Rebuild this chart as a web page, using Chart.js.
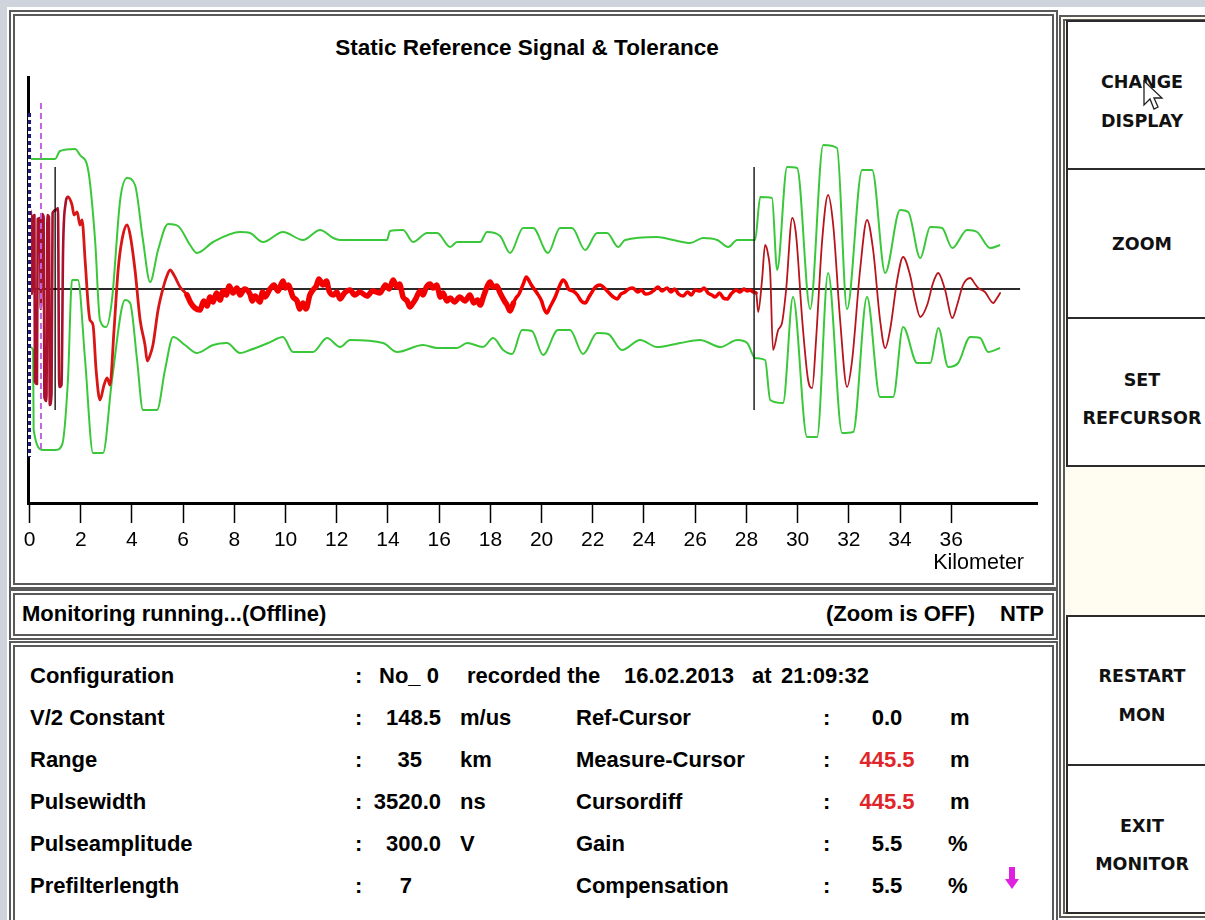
<!DOCTYPE html>
<html>
<head>
<meta charset="utf-8">
<script src="https://cdn.jsdelivr.net/npm/chart.js@4.4.1/dist/chart.umd.min.js"></script>
<style>
  html, body { margin:0; padding:0; }
  body { width:1205px; height:920px; overflow:hidden; position:relative; background:#cfd3dc;
         font-family:'Liberation Sans', Arial, sans-serif; }
  #app { position:absolute; left:7px; top:7px; width:1198px; height:913px; background:#fff; }
  .panel { position:absolute; box-sizing:border-box; border:6px double #5a5a5a; background:#fff; }
  .t { position:absolute; line-height:26px; white-space:nowrap; font-weight:bold; font-size:22px; color:#000; }
  .n { font-weight:normal; }
  .red { color:#e0262b; }
  .btn { position:absolute; left:1066px; width:150px; box-sizing:border-box; border:2px solid #2b2b2b; background:#fff; }
  .bt { position:absolute; left:1067px; width:150px; text-align:center; line-height:26px;
        font-family:'DejaVu Sans', Verdana, sans-serif; font-weight:bold; font-size:17.5px; color:#111; }
  #chartCanvas { position:absolute; left:0; top:0; z-index:2; }
</style>
</head>
<body>
<div id="app"></div>

<!-- chart panel -->
<div class="panel" style="left:9px;top:10px;width:1049px;height:579px;"></div>
<!-- status panel -->
<div class="panel" style="left:9px;top:589px;width:1049px;height:51px;"></div>
<!-- info panel -->
<div class="panel" style="left:9px;top:641px;width:1049px;height:290px;"></div>
<!-- button column -->
<div class="panel" style="left:1059px;top:15px;width:170px;height:903px;background:#fffdf2;"></div>
<div class="btn" style="top:20px;height:150px;"></div>
<div class="btn" style="top:168px;height:151px;"></div>
<div class="btn" style="top:317px;height:150px;"></div>
<div class="btn" style="top:615px;height:151px;"></div>
<div class="btn" style="top:764px;height:150px;"></div>

<div class="bt" style="top:69px;">CHANGE</div>
<div class="bt" style="top:108px;">DISPLAY</div>
<div class="bt" style="top:231px;">ZOOM</div>
<div class="bt" style="top:367px;">SET</div>
<div class="bt" style="top:405px;">REFCURSOR</div>
<div class="bt" style="top:663px;">RESTART</div>
<div class="bt" style="top:702px;">MON</div>
<div class="bt" style="top:813px;">EXIT</div>
<div class="bt" style="top:851px;">MONITOR</div>

<!-- mouse pointer -->
<svg style="position:absolute;left:1143px;top:80px;z-index:5" width="24" height="34" viewBox="0 0 24 34">
  <path d="M1 1 L1 25 L7 19 L11 29 L15 27 L11 18 L19 18 Z" fill="#fff" stroke="#222" stroke-width="1.3"/>
</svg>

<!-- chart title and axis name -->
<div class="t" style="left:0;width:1054px;text-align:center;top:35px;font-size:22.5px;">Static Reference Signal &amp; Tolerance</div>
<div class="t n" style="left:0;width:1024px;text-align:right;top:549px;font-size:21.5px;z-index:3;">Kilometer</div>

<!-- status bar -->
<div class="t" style="left:22px;top:601px;">Monitoring running...(Offline)</div>
<div class="t" style="left:826px;top:601px;">(Zoom is OFF)</div>
<div class="t" style="left:1000px;top:601px;">NTP</div>

<!-- info panel -->
<div class="t" style="left:30px;top:663px;">Configuration</div>
<div class="t" style="left:355px;top:663px;">:</div>
<div class="t" style="left:379px;top:663px;">No_ 0</div>
<div class="t" style="left:467px;top:663px;">recorded the</div>
<div class="t" style="left:624px;top:663px;">16.02.2013</div>
<div class="t" style="left:752px;top:663px;">at</div>
<div class="t" style="left:781px;top:663px;">21:09:32</div>

<div class="t" style="left:30px;top:705px;">V/2 Constant</div>
<div class="t" style="left:355px;top:705px;">:</div>
<div class="t" style="left:341px;width:100px;text-align:right;top:705px;">148.5</div>
<div class="t" style="left:460px;top:705px;">m/us</div>
<div class="t" style="left:576px;top:705px;">Ref-Cursor</div>
<div class="t" style="left:823px;top:705px;">:</div>
<div class="t" style="left:837px;width:100px;text-align:center;top:705px;">0.0</div>
<div class="t" style="left:950px;top:705px;">m</div>

<div class="t" style="left:30px;top:747px;">Range</div>
<div class="t" style="left:355px;top:747px;">:</div>
<div class="t" style="left:322px;width:100px;text-align:right;top:747px;">35</div>
<div class="t" style="left:460px;top:747px;">km</div>
<div class="t" style="left:576px;top:747px;">Measure-Cursor</div>
<div class="t" style="left:823px;top:747px;">:</div>
<div class="t red" style="left:837px;width:100px;text-align:center;top:747px;">445.5</div>
<div class="t" style="left:950px;top:747px;">m</div>

<div class="t" style="left:30px;top:789px;">Pulsewidth</div>
<div class="t" style="left:355px;top:789px;">:</div>
<div class="t" style="left:341px;width:100px;text-align:right;top:789px;">3520.0</div>
<div class="t" style="left:460px;top:789px;">ns</div>
<div class="t" style="left:576px;top:789px;">Cursordiff</div>
<div class="t" style="left:823px;top:789px;">:</div>
<div class="t red" style="left:837px;width:100px;text-align:center;top:789px;">445.5</div>
<div class="t" style="left:950px;top:789px;">m</div>

<div class="t" style="left:30px;top:831px;">Pulseamplitude</div>
<div class="t" style="left:355px;top:831px;">:</div>
<div class="t" style="left:341px;width:100px;text-align:right;top:831px;">300.0</div>
<div class="t" style="left:460px;top:831px;">V</div>
<div class="t" style="left:576px;top:831px;">Gain</div>
<div class="t" style="left:823px;top:831px;">:</div>
<div class="t" style="left:837px;width:100px;text-align:center;top:831px;">5.5</div>
<div class="t" style="left:948px;top:831px;">%</div>

<div class="t" style="left:30px;top:873px;">Prefilterlength</div>
<div class="t" style="left:355px;top:873px;">:</div>
<div class="t" style="left:312px;width:100px;text-align:right;top:873px;">7</div>
<div class="t" style="left:576px;top:873px;">Compensation</div>
<div class="t" style="left:823px;top:873px;">:</div>
<div class="t" style="left:837px;width:100px;text-align:center;top:873px;">5.5</div>
<div class="t" style="left:948px;top:873px;">%</div>
<svg style="position:absolute;left:1004px;top:866px;" width="16" height="24" viewBox="0 0 16 24">
  <path d="M5 1 L11 1 L11 13 L15 13 L8 23 L1 13 L5 13 Z" fill="#e020e0"/>
</svg>

<canvas id="chartCanvas" width="1050" height="590"></canvas>

<script>
// ---- data (x in km, y in relative amplitude units) ----
const xTickLabels = [0, 2, 4, 6, 8, 10, 12, 14, 16, 18, 20, 22, 24, 26, 28, 30, 32, 34, 36];

const upperKm = [0, 1.0, 1.19, 1.78, 1.97, 2.29, 2.56, 2.75, 2.99, 3.22, 3.54, 3.81, 4.12, 4.43, 4.71, 5.02, 5.41, 5.80,
  6.27, 6.54, 7.17, 8.22, 8.61, 9.12, 9.90, 10.68, 11.35, 11.86, 12.13, 13.96, 14.08, 14.59, 14.98, 15.53, 15.92, 16.43,
  16.70, 17.60, 17.87, 18.38, 18.77, 19.28, 19.67, 20.25, 20.72, 21.19, 21.70, 22.17, 22.56, 22.99, 23.26, 24.51, 25.14,
  25.80, 26.31, 26.86, 27.29, 27.64, 28.34, 28.54, 29.00, 29.20, 29.59, 29.98, 30.49, 31.00, 31.54, 31.93, 32.52, 32.91,
  33.42, 34.00, 34.32, 34.79, 35.18, 35.64, 36.04, 36.62, 37.01, 37.52, 37.91];
const upperVal = [130, 130, 138, 140, 134, 119, 49, -31, -38, -11, 89, 111, 104, 49, 7, 39, 65, 63,
  44, 36, 47, 57, 56, 47, 57, 49, 59, 51, 49, 49, 58, 59, 47, 56, 56, 42,
  47, 47, 57, 53, 36, 61, 61, 36, 61, 61, 39, 56, 56, 42, 49, 52, 49,
  46, 51, 49, 42, 49, 49, 92, 91, 19, 122, 121, -20, 144, 141, -20, 119, 119,
  16, 79, 77, 31, 62, 61, 41, 59, 57, 41, 44];

const lowerKm = [0, 0.14, 0.16, 0.53, 1.0, 1.27, 1.50, 1.66, 1.89, 2.17, 2.48, 2.87, 3.22, 3.73, 3.93, 4.20, 4.43, 4.98,
  5.29, 5.61, 6.07, 6.54, 7.17, 7.71, 8.22, 8.61, 9.32, 9.90, 10.29, 11.07, 11.62, 12.13, 12.52, 13.81, 14.36, 15.37,
  15.92, 16.70, 17.09, 17.71, 18.11, 18.50, 18.85, 19.24, 19.62, 20.06, 20.64, 21.11, 21.62, 22.17, 22.60, 23.14, 23.85,
  24.51, 25.41, 26.19, 26.99, 27.64, 28.03, 28.34, 28.73, 28.93, 29.43, 29.82, 30.37, 30.76, 31.19, 31.74, 32.17, 32.71,
  33.22, 33.73, 34.12, 34.67, 35.18, 35.50, 35.88, 36.27, 36.74, 37.13, 37.44, 37.91];
const lowerVal = [-58, -61, -141, -161, -161, -156, -91, 9, 9, -71, -164, -164, -91, -11, -14, -71, -121, -121,
  -81, -48, -56, -64, -56, -54, -64, -61, -54, -48, -63, -63, -49, -58, -51, -54, -63, -56,
  -59, -59, -54, -58, -49, -61, -65, -41, -42, -66, -41, -41, -65, -44, -45, -61, -51,
  -58, -54, -51, -58, -51, -54, -69, -71, -111, -114, -8, -148, -148, 16, -144, -143, -8,
  -108, -108, -38, -74, -74, -39, -78, -74, -48, -49, -63, -59];

const signalKm = [0.00, 0.05, 0.09, 0.13, 0.19, 0.21, 0.29, 0.32, 0.40, 0.44, 0.49, 0.55, 0.58, 0.66, 0.70, 0.76, 0.79, 0.86,
  0.90, 1.04, 1.11, 1.16, 1.25, 1.31, 1.40, 1.50, 1.66, 1.74, 1.86, 1.97, 2.05, 2.17, 2.29, 2.36, 2.48, 2.60, 2.75, 2.91,
  3.03, 3.14, 3.30, 3.46, 3.61, 3.81, 3.93, 4.12, 4.32, 4.51, 4.60, 4.71, 4.82, 5.02, 5.25, 5.35, 5.49, 5.64, 5.88, 6.15,
  6.30, 6.46, 6.66, 6.80, 6.93, 7.05, 7.17, 7.30, 7.44, 7.56, 7.68, 7.80, 7.95, 8.10, 8.22, 8.40, 8.61, 8.70, 8.81, 9.00,
  9.10, 9.20, 9.39, 9.55, 9.70, 9.90, 10.00, 10.10, 10.29, 10.45, 10.55, 10.68, 10.80, 10.95, 11.07, 11.20, 11.30, 11.46,
  11.60, 11.70, 11.86, 12.00, 12.13, 12.30, 12.52, 12.70, 12.90, 13.18, 13.40, 13.69, 13.90, 14.05, 14.20, 14.35, 14.45,
  14.59, 14.75, 14.85, 14.98, 15.10, 15.25, 15.37, 15.50, 15.65, 15.76, 15.90, 16.05, 16.15, 16.30, 16.43, 16.60, 16.80,
  17.01, 17.20, 17.35, 17.50, 17.60, 17.75, 17.90, 17.99, 18.10, 18.25, 18.38, 18.55, 18.65, 18.77, 18.90, 19.00, 19.12,
  19.30, 19.40, 19.47, 19.60, 19.82, 20.00, 20.10, 20.21, 20.33, 20.53, 20.70, 20.84, 20.95, 21.05, 21.23, 21.40, 21.55,
  21.70, 21.85, 21.97, 22.10, 22.29, 22.45, 22.60, 22.80, 22.95, 23.10, 23.26, 23.40, 23.57, 23.75, 23.90, 24.05, 24.24,
  24.40, 24.55, 24.70, 24.90, 25.05, 25.20, 25.35, 25.53, 25.70, 25.85, 26.00, 26.19, 26.35, 26.50, 26.65, 26.78, 26.95,
  27.10, 27.25, 27.40, 27.60, 27.75, 27.90, 28.03, 28.15, 28.26, 28.38, 28.46, 28.61, 28.73, 28.85, 28.93, 29.04, 29.24,
  29.39, 29.55, 29.79, 29.94, 30.18, 30.41, 30.57, 30.72, 30.96, 31.19, 31.39, 31.66, 31.93, 32.13, 32.44, 32.71, 32.95,
  33.22, 33.42, 33.61, 33.89, 34.12, 34.39, 34.59, 34.79, 35.06, 35.29, 35.49, 35.76, 36.04, 36.23, 36.46, 36.74, 36.93,
  37.05, 37.32, 37.64, 37.79, 37.91];
const signalVal = [79, 77, -5, 72, 74, -92, -95, 70, 71, -20, 75, 72, -108, -112, 74, 72, -116, -104,
  76, 79, 81, -98, -96, 39, 84, 92, 84, 74, 77, 64, 69, 29, -16, -31, -36, -81, -111, -96,
  -89, -96, -41, 19, 49, 64, 54, 19, -31, -56, -72, -66, -56, -21, 4, 12, 19, 14, 2, -6,
  -14, -19, -21, -12, -17, -8, -13, -4, -11, -2, -6, 3, -4, 1, -6, 0, -5, -12, -7, -13,
  -3, -8, 0, 4, -2, 8, 1, 4, -8, -12, -20, -14, -20, -6, -1, 3, 10, 4,
  8, -2, -6, -3, -10, -4, -1, -6, -3, -7, -2, -4, 4, 0, 9, 2, 5,
  -8, -12, -18, -14, -9, -2, -6, 2, 5, 1, 4, -8, -4, -12, -9, -13, -8,
  -12, -6, -14, -11, -16, -6, 4, 7, 2, 3, -4, -12, -16, -22, -14, -9, -5,
  6, 12, 10, 4, -4, -12, -20, -24, -18, -8, 3, 9, 6, 0, -2, -6, -12,
  -14, -8, -3, 2, 4, 1, -3, -8, -10, -5, -3, 0, 1, -3, -1, -5, -4,
  -1, 2, -2, 1, -3, 0, -5, -7, -3, -6, -1, -2, 1, -4, -6, -8, -4,
  -9, -10, -5, -1, -3, 0, -2, -1, -3, -4, -23, 9, 44, 34, 16, -61, -41,
  -34, -1, 71, 54, -31, -91, -99, -51, 49, 94, 64, -31, -98, -71, 19, 69, 39,
  -31, -59, -41, 9, 32, 14, -11, -28, -16, 6, 16, -1, -29, -16, 4, 11, 5,
  1, -3, -14, -9, -4];

const zeroLineKm = [0, 38.69];
const zeroLineVal = [0, 0];
const refCursorKm = 0.0;       const refCursorSpan = [176, -168];
const measureCursorKm = 0.4455; const measureCursorSpan = [186, -161];
const markerKm = 1.0;           const markerSpan = [122, -121];
const cursorKm = 28.3;          const cursorSpan = [122, -121];

// ---- build chart ----
const pts = (xs, ys) => xs.map((x, i) => ({ x: x, y: ys[i] }));
const vline = (km, span) => span.map(v => ({ x: km, y: v }));
const GREEN = '#3ac83a';

const redColor = c => {
  const x = c.p0.parsed.x;
  if (x < 1.45) return '#a8102c';
  if (x < 6) return '#d81616';
  if (x < 28.3) return '#f20000';
  return '#b8141c';
};
const redWidth = c => {
  const x = c.p0.parsed.x;
  if (x < 1.45) return 2.6;
  if (x < 6) return 2.8;
  if (x < 18.8) return 5.5;
  if (x < 28.3) return 3.5;
  return 1.8;
};

new Chart(document.getElementById('chartCanvas'), {
  type: 'line',
  data: {
    datasets: [
      { data: vline(refCursorKm, refCursorSpan), borderColor: '#1c1c78', borderWidth: 3, borderDash: [4, 3], order: 0 },
      { data: vline(refCursorKm, refCursorSpan), borderColor: '#ffffff', borderWidth: 3, order: 0.5 },
      { data: vline(measureCursorKm, measureCursorSpan), borderColor: '#c064e0', borderWidth: 2, borderDash: [6, 4], order: 0 },
      { data: vline(markerKm, markerSpan), borderColor: '#000', borderWidth: 1.3, order: 0 },
      { data: vline(cursorKm, cursorSpan), borderColor: '#222', borderWidth: 1.5, order: 0 },
      { data: pts(signalKm, signalVal), borderColor: '#f20000', borderWidth: 3, borderJoinStyle: 'round',
        borderCapStyle: 'round', cubicInterpolationMode: 'monotone',
        segment: { borderColor: redColor, borderWidth: redWidth }, order: 1 },
      { data: pts(upperKm, upperVal), borderColor: GREEN, borderWidth: 2, cubicInterpolationMode: 'monotone', order: 2 },
      { data: pts(lowerKm, lowerVal), borderColor: GREEN, borderWidth: 2, cubicInterpolationMode: 'monotone', order: 2 },
      { data: pts(zeroLineKm, zeroLineVal), borderColor: '#2a2a2a', borderWidth: 1.8, order: 3 }
    ]
  },
  options: {
    responsive: false,
    animation: false,
    events: [],
    layout: { padding: { left: 28, right: 13, top: 77, bottom: 38 } },
    elements: { point: { radius: 0 }, line: { tension: 0, fill: false } },
    plugins: { legend: { display: false }, tooltip: { enabled: false }, title: { display: false } },
    scales: {
      x: {
        type: 'linear', min: -0.06, max: 39.35,
        afterBuildTicks: s => { s.ticks = xTickLabels.map(v => ({ value: v })); },
        afterFit: s => { s.height = 49; },
        ticks: { autoSkip: false, maxRotation: 0, padding: 5, color: '#000',
                 font: { family: "'Liberation Sans', Arial, sans-serif", size: 21 } },
        grid: { drawOnChartArea: false, drawTicks: true, tickLength: 20, tickColor: '#000', tickWidth: 1.5 },
        border: { display: true, color: '#000', width: 3 }
      },
      y: {
        min: -214, max: 212,
        afterFit: s => { s.width = 0; },
        ticks: { display: false },
        grid: { display: false },
        border: { display: true, color: '#000', width: 3 }
      }
    }
  }
});
</script>
</body>
</html>
